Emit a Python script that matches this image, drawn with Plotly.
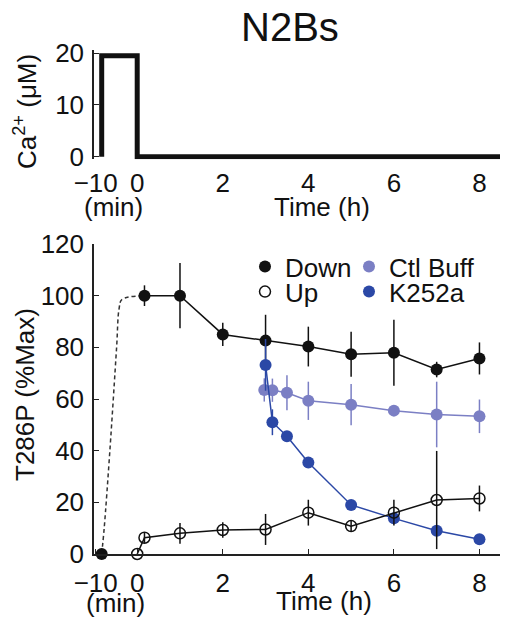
import plotly.graph_objects as go
from plotly.subplots import make_subplots

# ---- broken time axis: minutes before 0 are stretched (10 min drawn as 0.83 h)
MIN_TO_AXIS = 0.083

def m2ax(mins):
    return [m * MIN_TO_AXIS for m in mins]

# ---- top panel: Ca2+ stimulus
ca_time_min = [-10, -10, 0, 0]
ca_time_h_end = [8.5]
ca_conc = [0, 19.5, 19.5, 0, 0]

# ---- bottom panel: T286P (%Max)
down_pre_min = [-10]
down_pre_val = [0]
down_t = [0.17, 1, 2, 3, 4, 5, 6, 7, 8]
down_val = [100, 100, 85, 82.6, 80.3, 77.3, 77.9, 71.4, 75.7]
down_err = [4, 12.6, 4.5, 10, 7.7, 8.7, 12.8, 3, 6.2]

up_t = [0, 0.17, 1, 2, 3, 4, 5, 6, 7, 8]
up_val = [0, 6.3, 8.0, 9.3, 9.5, 16, 10.8, 16, 20.9, 21.5]
up_err = [0, 2, 4, 3, 6, 5, 2, 5, 19, 5]

ctl_t = [2.97, 3.16, 3.5, 4, 5, 6, 7, 8]
ctl_val = [63.5, 63.4, 62.4, 59.3, 57.8, 55.5, 54, 53.3]
ctl_err = [4.5, 4.5, 6.8, 7.4, 8, 2, 12.7, 6.5]

k_t = [3.0, 3.16, 3.5, 4, 5, 6, 7, 8]
k_val = [73.2, 51, 45.6, 35.4, 19, 13.8, 9, 5.7]
k_err = [10, 5, 2, 2, 1.5, 2, 2, 1]

# dashed rise during the Ca2+ pulse (minutes), joining the first "Down" point
dash_min = [-10, -9.3, -7.7, -5.8, -5.1, -4.3]
dash_val = [0, 10, 40, 80, 95, 98.5]

x_tick_labels = ["\u221210", "0", "2", "4", "6", "8"]
y_top_ticks = [0, 10, 20]
y_bot_ticks = [0, 20, 40, 60, 80, 100, 120]

BLACK = "#111111"
CTL = "#7b7fc4"
K252 = "#2b48a6"
FONT = "Liberation Sans, Arial, sans-serif"

fig = make_subplots(rows=2, cols=1)

fig.add_trace(go.Scatter(
    x=m2ax(ca_time_min) + ca_time_h_end, y=ca_conc, mode="lines",
    line=dict(color=BLACK, width=5), showlegend=False,
), row=1, col=1)

fig.add_trace(go.Scatter(
    x=m2ax(dash_min) + [down_t[0]], y=dash_val + [down_val[0]], mode="lines",
    line=dict(color="#333333", width=1.5, dash="4px,3px", shape="spline"), showlegend=False,
), row=2, col=1)

fig.add_trace(go.Scatter(
    x=down_t, y=down_val, mode="lines+markers",
    line=dict(color=BLACK, width=1.5),
    marker=dict(size=12, color=BLACK),
    error_y=dict(type="data", array=down_err, color=BLACK, thickness=1.5, width=0),
    showlegend=False, cliponaxis=False,
), row=2, col=1)
fig.add_trace(go.Scatter(
    x=m2ax(down_pre_min), y=down_pre_val, mode="markers",
    marker=dict(size=12, color=BLACK), showlegend=False, cliponaxis=False,
), row=2, col=1)

fig.add_trace(go.Scatter(
    x=ctl_t, y=ctl_val, mode="lines+markers",
    line=dict(color=CTL, width=1.5),
    marker=dict(size=12, color=CTL),
    error_y=dict(type="data", array=ctl_err, color=CTL, thickness=1.5, width=0),
    showlegend=False,
), row=2, col=1)

fig.add_trace(go.Scatter(
    x=k_t, y=k_val, mode="lines+markers",
    line=dict(color=K252, width=1.5),
    marker=dict(size=12, color=K252),
    error_y=dict(type="data", array=k_err, color=K252, thickness=1.5, width=0),
    showlegend=False,
), row=2, col=1)

fig.add_trace(go.Scatter(
    x=up_t, y=up_val, mode="lines+markers",
    line=dict(color=BLACK, width=1.5),
    marker=dict(size=11, color="rgba(255,255,255,0)", line=dict(color=BLACK, width=1.5)),
    error_y=dict(type="data", array=up_err, color=BLACK, thickness=1.5, width=0),
    showlegend=False, cliponaxis=False,
), row=2, col=1)

leg_items = [
    ("Down", dict(size=12, color=BLACK), "legend"),
    ("Up", dict(size=11, color="white", line=dict(color=BLACK, width=1.5)), "legend2"),
    ("Ctl Buff", dict(size=12, color=CTL), "legend3"),
    ("K252a", dict(size=12, color=K252), "legend4"),
]
for name, mk, lg in leg_items:
    fig.add_trace(go.Scatter(x=[None], y=[None], mode="markers", name=name,
                             marker=mk, legend=lg, showlegend=True), row=2, col=1)

# page body has an 8px margin: figure is placed at (8, 8)
OFF = 8
W, H = 513 - 2 * OFF, 629 - 2 * OFF
PL, PR, PT, PB = 94, 500, 50, 554   # plot-area edges in screenshot pixels
ML, MT = PL - OFF, PT - OFF
MR = W - (PR - OFF)
MB = H - (PB - OFF)
PW, PH = PR - PL, PB - PT

def px2x(p):
    return (p - PL) / PW

def px2y(p):
    return (PB - p) / PH

def leg(xp, yp):
    return dict(x=px2x(xp), y=px2y(yp), xanchor="left", yanchor="middle",
                bgcolor="rgba(0,0,0,0)", borderwidth=0,
                font=dict(family=FONT, size=26, color=BLACK), itemwidth=30)

tickfont = dict(family=FONT, size=26, color=BLACK)
xtickvals = [-0.97, 0, 2, 4, 6, 8]

fig.update_layout(
    width=W, height=H,
    margin=dict(l=ML, r=MR, t=MT, b=MB),
    plot_bgcolor="white", paper_bgcolor="white",
    font=dict(family=FONT, color=BLACK),
    legend=leg(245, 266.7),
    legend2=leg(245, 291.7),
    legend3=leg(349, 266.7),
    legend4=leg(349, 291.7),
    xaxis=dict(range=[-1.01, 8.48], tickvals=xtickvals, ticktext=x_tick_labels,
               showline=False, ticks="", showgrid=False, zeroline=False,
               tickfont=tickfont, ticklabelstandoff=6),
    yaxis=dict(domain=[px2y(159.3), 1], range=[-0.5, 20.62], tickvals=y_top_ticks,
               showline=True, linecolor="#222", linewidth=1.5, ticks="inside",
               ticklen=5, tickcolor="#222", showgrid=False, zeroline=False,
               tickfont=tickfont, ticklabelstandoff=3),
    xaxis2=dict(range=[-1.01, 8.48], tickvals=xtickvals, ticktext=x_tick_labels,
                showline=True, linecolor="#222", linewidth=1.5, ticks="inside",
                ticklen=5, tickcolor="#222", showgrid=False, zeroline=False,
                tickfont=tickfont, ticklabelstandoff=5),
    yaxis2=dict(domain=[0, px2y(244)], range=[0, 120], tickvals=y_bot_ticks,
                showline=True, linecolor="#222", linewidth=1.5, ticks="inside",
                ticklen=5, tickcolor="#222", showgrid=False, zeroline=False,
                tickfont=tickfont, ticklabelstandoff=3),
)

ann_font = dict(family=FONT, size=26, color=BLACK)
annotations = [
    dict(text="N2Bs", x=px2x(290), y=px2y(27), font=dict(family=FONT, size=40, color=BLACK)),
    dict(text="Ca<sup>2+</sup> (\u03bcM)", x=px2x(25), y=px2y(112), textangle=-90, font=ann_font),
    dict(text="T286P (%Max)", x=px2x(25), y=px2y(395), textangle=-90, font=ann_font),
    dict(text="(min)", x=px2x(113), y=px2y(206.7), font=ann_font),
    dict(text="Time (h)", x=px2x(322), y=px2y(206.7), font=ann_font),
    dict(text="(min)", x=px2x(115), y=px2y(603), font=ann_font),
    dict(text="Time (h)", x=px2x(324), y=px2y(601), font=ann_font),
]
for a in annotations:
    a.update(xref="paper", yref="paper", showarrow=False, xanchor="center", yanchor="middle")
fig.update_layout(annotations=annotations)

fig.write_html("out.html")
